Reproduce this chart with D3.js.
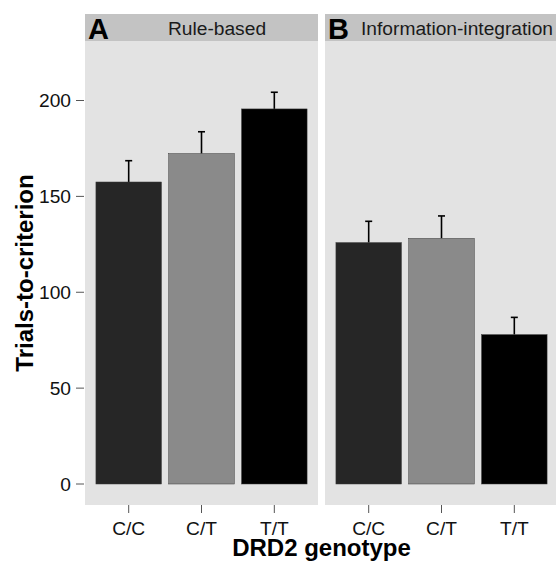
<!DOCTYPE html>
<html><head><meta charset="utf-8">
<script src="https://cdn.jsdelivr.net/npm/d3@7"></script>
<style>body{margin:0;background:#fff}svg{display:block;font-family:"Liberation Sans",Arial,sans-serif}</style>
</head><body><svg id="c" width="556" height="561"></svg>
<script>
const genotypes = ["C/C", "C/T", "T/T"];
const panels = ["Rule-based", "Information-integration"];
const panelLetters = ["A", "B"];
const means = [[157.5, 172.3, 195.6], [125.9, 128.1, 77.9]];
const upper = [[168.6, 183.7, 204.3], [137.0, 139.8, 86.9]];
const yTicks = [0, 50, 100, 150, 200];
const barColors = ["#262626", "#8a8a8a", "#000000"];

(function () {
const svg = d3.select("#c");
const panelTop = 41, panelBottom = 505;
const panelX = [85, 325], panelW = 233;
const y = d3.scaleLinear().domain([0, 200]).range([484, 100.5]);
const x = d3.scaleBand().domain(genotypes).range([0, panelW]).paddingInner(0.1).paddingOuter(0.15);
const bw = x.bandwidth();
const xc = d => x(d) + bw / 2;

panels.forEach((p, i) => {
  const g = svg.append("g").attr("transform", `translate(${panelX[i]},0)`);
  g.append("rect").attr("x", 0).attr("y", panelTop).attr("width", panelW).attr("height", panelBottom - panelTop).attr("fill", "#e3e3e3");
  g.append("rect").attr("x", 0).attr("y", 14).attr("width", panelW).attr("height", 27).attr("fill", "#c3c3c3");
  g.append("text").attr("x", panelW / 2 + 15.5).attr("y", 34.5).attr("text-anchor", "middle").attr("font-size", 19.2).attr("fill", "#1a1a1a").text(p);
  g.append("text").attr("x", 3).attr("y", 39).attr("font-size", 29).attr("font-weight", "bold").attr("fill", "#000").text(panelLetters[i]);
  genotypes.forEach((gt, j) => {
    g.append("line").attr("x1", xc(gt)).attr("x2", xc(gt)).attr("y1", y(means[i][j])).attr("y2", y(upper[i][j])).attr("stroke", "#000").attr("stroke-width", 1.6);
    g.append("line").attr("x1", xc(gt) - 3.5).attr("x2", xc(gt) + 3.5).attr("y1", y(upper[i][j])).attr("y2", y(upper[i][j])).attr("stroke", "#000").attr("stroke-width", 1.6);
    g.append("rect").attr("x", x(gt)).attr("y", y(means[i][j])).attr("width", bw).attr("height", y(0) - y(means[i][j]))
      .attr("fill", barColors[j]).attr("stroke", "#3a3a3a").attr("stroke-width", 0.5);
    g.append("line").attr("x1", xc(gt)).attr("x2", xc(gt)).attr("y1", panelBottom).attr("y2", panelBottom + 8).attr("stroke", "#555").attr("stroke-width", 1);
    g.append("text").attr("x", xc(gt)).attr("y", 535).attr("text-anchor", "middle").attr("font-size", 19.2).attr("fill", "#111").text(gt);
  });
});

const ya = svg.append("g");
yTicks.forEach(t => {
  ya.append("line").attr("x1", 76).attr("x2", 84).attr("y1", y(t)).attr("y2", y(t)).attr("stroke", "#555").attr("stroke-width", 1);
  ya.append("text").attr("x", 71).attr("y", y(t)).attr("dy", "0.36em").attr("text-anchor", "end").attr("font-size", 19.2).attr("fill", "#111").text(t);
});

svg.append("text").attr("transform", "translate(33,273) rotate(-90)").attr("text-anchor", "middle").attr("font-size", 24).attr("font-weight", "bold").text("Trials-to-criterion");
svg.append("text").attr("x", 321.5).attr("y", 556).attr("text-anchor", "middle").attr("font-size", 24).attr("font-weight", "bold").text("DRD2 genotype");
})();
</script></body></html>
